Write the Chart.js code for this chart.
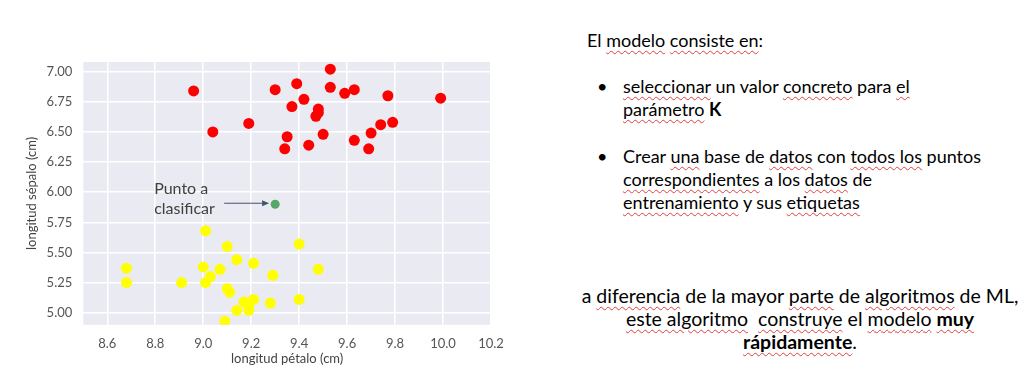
<!DOCTYPE html>
<html>
<head>
<meta charset="utf-8">
<script src="https://cdn.jsdelivr.net/npm/chart.js@4/dist/chart.umd.min.js"></script>
<style>
  body { margin: 0; background: #fff; width: 1024px; height: 388px; overflow: hidden; position: relative; }
  #wrap { position: absolute; left: 0; top: 0; width: 520px; height: 388px; }
  .txt { position: absolute; font-family: Lato, "Noto Sans", sans-serif; font-size: 18px; color: #000; line-height: 23px; white-space: nowrap; }
  .sp { text-decoration: underline wavy #e04040; text-decoration-thickness: 1px; text-underline-offset: 3px; }
  .bul { position: absolute; left: -26px; }
</style>
</head>
<body>
<div id="wrap"><canvas id="knnChart" width="520" height="388"></canvas></div>

<div class="txt" style="left:587px; top:29px;">El <span class="sp">modelo</span> <span class="sp">consiste en</span>:</div>
<div class="txt" style="left:623px; top:75px;"><span class="bul">•</span><span class="sp">seleccionar</span> un valor <span class="sp">concreto</span> para <span class="sp">el</span><br><span class="sp">parámetro</span> <b>K</b></div>
<div class="txt" style="left:623px; top:145px;"><span class="bul">•</span>Crear <span class="sp">una</span> base de <span class="sp">datos</span> con <span class="sp">todos los</span> puntos<br><span class="sp">correspondientes</span> a los <span class="sp">datos</span> de<br><span class="sp">entrenamiento</span> y sus <span class="sp">etiquetas</span></div>
<div class="txt" style="left:570px; top:284px; width:460px; text-align:center; font-size:19.5px;">a <span class="sp">diferencia</span> de la mayor <span class="sp">parte</span> de <span class="sp">algoritmos</span> de ML,<br><span class="sp">este algoritmo</span>&nbsp; <span class="sp">construye</span> el <span class="sp">modelo</span> <b class="sp">muy</b><br><b class="sp">rápidamente</b>.</div>

<script>
// training points, class A (red)
const redX = [8.96, 9.04, 9.19, 9.30, 9.39, 9.53, 9.53, 9.59, 9.63, 9.77, 9.99, 9.37, 9.42, 9.48, 9.48, 9.47, 9.35, 9.34, 9.44, 9.50, 9.63, 9.69, 9.70, 9.74, 9.79];
const redY = [6.84, 6.50, 6.57, 6.85, 6.90, 7.02, 6.87, 6.82, 6.85, 6.80, 6.78, 6.71, 6.77, 6.69, 6.66, 6.63, 6.46, 6.36, 6.39, 6.48, 6.43, 6.36, 6.49, 6.56, 6.58];

// training points, class B (yellow)
const yellowX = [8.68, 8.68, 8.91, 9.01, 9.00, 9.03, 9.01, 9.07, 9.10, 9.14, 9.21, 9.10, 9.11, 9.14, 9.17, 9.21, 9.19, 9.19, 9.09, 9.28, 9.29, 9.40, 9.48, 9.40];
const yellowY = [5.37, 5.25, 5.25, 5.68, 5.38, 5.30, 5.25, 5.36, 5.55, 5.44, 5.41, 5.20, 5.17, 5.02, 5.09, 5.11, 5.02, 5.06, 4.93, 5.08, 5.31, 5.57, 5.36, 5.11];

// point to classify
const newX = [9.30];
const newY = [5.90];

const xTicks = [8.6, 8.8, 9.0, 9.2, 9.4, 9.6, 9.8, 10.0, 10.2];
const yTicks = [5.00, 5.25, 5.50, 5.75, 6.00, 6.25, 6.50, 6.75, 7.00];

const toPoints = (xs, ys) => xs.map((x, i) => ({ x: x, y: ys[i] }));

const plotBg = {
  id: 'plotBg',
  beforeDraw(chart) {
    const { ctx, chartArea: a } = chart;
    ctx.save();
    ctx.fillStyle = '#eaeaf2';
    ctx.fillRect(a.left, a.top, a.width, a.height);
    ctx.restore();
  }
};

// "Punto a clasificar" label with arrow
const pointLabel = {
  id: 'pointLabel',
  afterDatasetsDraw(chart) {
    const { ctx, scales } = chart;
    const px = scales.x.getPixelForValue(newX[0]);
    const py = scales.y.getPixelForValue(newY[0]);
    ctx.save();
    ctx.fillStyle = '#404040';
    ctx.font = '16px Lato, "Noto Sans", sans-serif';
    ctx.textBaseline = 'alphabetic';
    ctx.fillText('Punto a', px - 121, py - 10);
    ctx.fillText('clasificar', px - 121, py + 10);
    ctx.strokeStyle = '#44546a';
    ctx.fillStyle = '#44546a';
    ctx.lineWidth = 1;
    ctx.beginPath();
    ctx.moveTo(px - 51, py - 1);
    ctx.lineTo(px - 10, py - 1);
    ctx.stroke();
    ctx.beginPath();
    ctx.moveTo(px - 6, py - 1);
    ctx.lineTo(px - 13, py - 4);
    ctx.lineTo(px - 13, py + 2);
    ctx.closePath();
    ctx.fill();
    ctx.restore();
  }
};

const tickFont = { family: 'Lato, "Noto Sans", sans-serif', size: 13 };

new Chart(document.getElementById('knnChart'), {
  type: 'scatter',
  data: {
    datasets: [
      { data: toPoints(redX, redY), backgroundColor: '#ff0000', borderWidth: 0, pointRadius: 5.5 },
      { data: toPoints(yellowX, yellowY), backgroundColor: '#ffff00', borderWidth: 0, pointRadius: 5.5 },
      { data: toPoints(newX, newY), backgroundColor: '#55a868', borderWidth: 0, pointRadius: 4.5 }
    ]
  },
  options: {
    responsive: false,
    animation: false,
    devicePixelRatio: 1,
    layout: { padding: { left: 24, top: 62, right: 29, bottom: 21 } },
    plugins: { legend: { display: false }, tooltip: { enabled: false } },
    scales: {
      x: {
        min: 8.5, max: 10.2,
        afterBuildTicks: axis => { axis.ticks = xTicks.map(v => ({ value: v })); },
        grid: { color: '#ffffff', lineWidth: 1.5, drawTicks: false },
        border: { display: false },
        ticks: { color: '#555', font: tickFont, padding: 11, maxRotation: 0, callback: v => v.toFixed(1) },
        title: { display: true, text: 'longitud pétalo (cm)', color: '#444', font: tickFont, padding: { top: -11, bottom: 0 } }
      },
      y: {
        min: 4.9, max: 7.08,
        afterBuildTicks: axis => { axis.ticks = yTicks.map(v => ({ value: v })); },
        grid: { color: '#ffffff', lineWidth: 1.5, drawTicks: false },
        border: { display: false },
        ticks: { color: '#555', font: tickFont, padding: 11, callback: v => v.toFixed(2) },
        title: { display: true, text: 'longitud sépalo (cm)', color: '#444', font: tickFont, padding: { top: 0, bottom: -4 } }
      }
    }
  },
  plugins: [plotBg, pointLabel]
});
</script>
</body>
</html>
